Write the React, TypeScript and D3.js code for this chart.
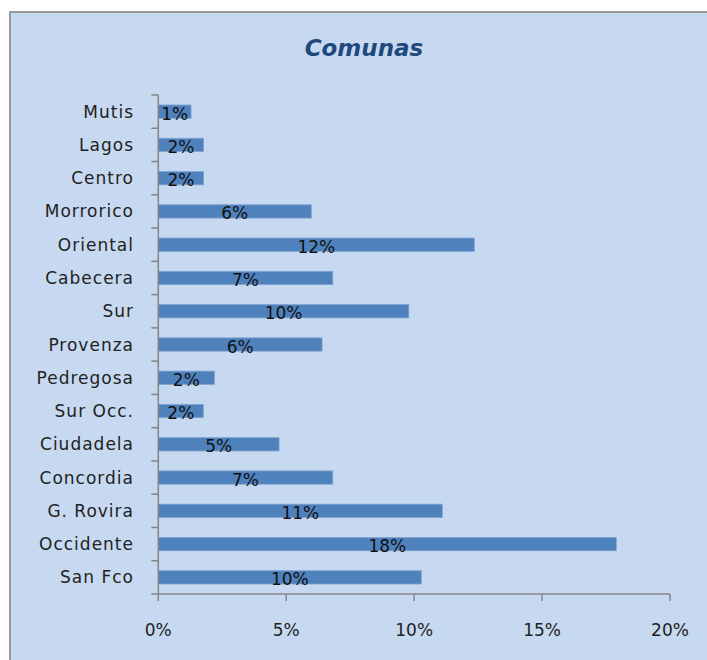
import React from "react";
import * as d3 from "d3";

const categories = [
  "Mutis", "Lagos", "Centro", "Morrorico", "Oriental", "Cabecera", "Sur",
  "Provenza", "Pedregosa", "Sur Occ.", "Ciudadela", "Concordia", "G. Rovira",
  "Occidente", "San Fco",
];
const values = [
  0.0128, 0.0177, 0.0177, 0.0598, 0.1235, 0.0682, 0.0979,
  0.064, 0.0219, 0.0176, 0.0472, 0.0682, 0.111, 0.179, 0.1028,
];
const xTicks = [0, 0.05, 0.1, 0.15, 0.2];
const title = "Comunas";

export default function App() {
  const W = 707, H = 660;
  const x = d3.scaleLinear().domain([0, 0.2]).range([158.3, 670]);
  const y = d3.scaleBand<string>().domain(categories).range([95, 594]).paddingInner(0.6).paddingOuter(0.3);
  const fmt = d3.format(".0%");
  const step = y.step();
  const [y0, y1] = y.range();
  const font = "'DejaVu Sans', Verdana, sans-serif";
  const axisColor = "#868686";
  const boundaries = d3.range(categories.length + 1).map((i) => y0 + i * step);

  return (
    <div style={{ position: "absolute", left: 0, top: 0 }}>
      <svg width={W} height={H} style={{ display: "block" }}>
        <rect x={0} y={0} width={W} height={H} fill="#ffffff" />
        <rect x={10} y={12} width={W + 20} height={H + 20} fill="#c6d9f1" stroke="#9a9a9a" strokeWidth={2} />
        <text x={364} y={48} textAnchor="middle" dominantBaseline="central" fontFamily={font} fontSize={23} fontWeight="bold" fontStyle="italic" fill="#1f497d">
          {title}
        </text>
        {categories.map((c, i) => (
          <g key={c}>
            <rect x={x(0)} y={y(c)!} width={x(values[i]) - x(0)} height={y.bandwidth()} fill="#4f81bd" stroke="#7fa3d0" strokeWidth={0.8} />
            <text x={(x(0) + x(values[i])) / 2} y={y(c)! + y.bandwidth() / 2 + 2} textAnchor="middle" dominantBaseline="central" fontFamily={font} fontSize={17} fill="#111">
              {fmt(values[i])}
            </text>
            <text x={134} y={y(c)! + y.bandwidth() / 2} textAnchor="end" dominantBaseline="central" fontFamily={font} fontSize={17} letterSpacing={1} fill="#222">
              {c}
            </text>
          </g>
        ))}
        <line x1={x(0)} x2={x(0)} y1={y0} y2={y1} stroke={axisColor} strokeWidth={1.5} />
        {boundaries.map((b, i) => (
          <line key={i} x1={x(0) - 7} x2={x(0)} y1={b} y2={b} stroke={axisColor} strokeWidth={1.5} />
        ))}
        <line x1={x(0)} x2={x(0.2)} y1={y1} y2={y1} stroke={axisColor} strokeWidth={1.5} />
        {xTicks.map((t) => (
          <g key={t}>
            <line x1={x(t)} x2={x(t)} y1={y1} y2={y1 + 7} stroke={axisColor} strokeWidth={1.5} />
            <text x={x(t)} y={630} textAnchor="middle" dominantBaseline="central" fontFamily={font} fontSize={17} fill="#222">
              {fmt(t)}
            </text>
          </g>
        ))}
      </svg>
    </div>
  );
}
